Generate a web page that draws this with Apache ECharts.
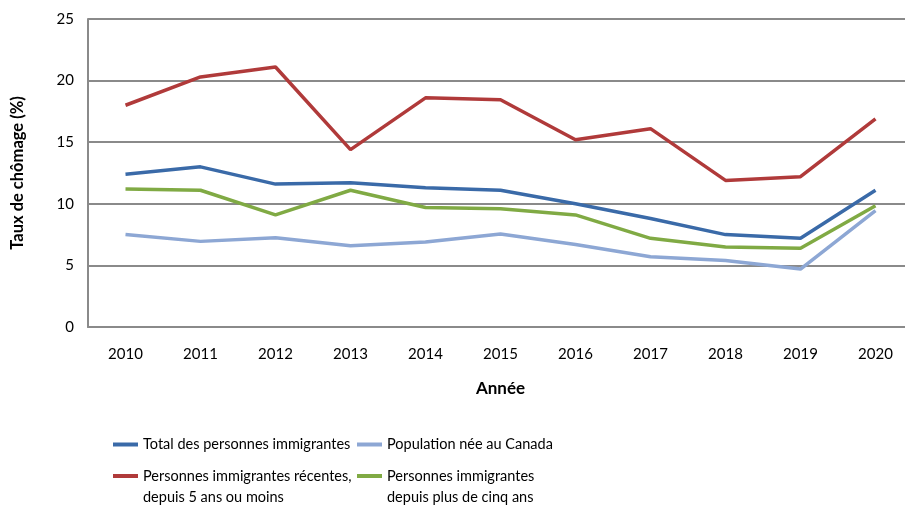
<!DOCTYPE html>
<html>
<head>
<meta charset="utf-8">
<script src="https://cdn.jsdelivr.net/npm/echarts@6/dist/echarts.min.js"></script>
<style>
  html, body { margin: 0; padding: 0; background: #fff; }
  #chart { width: 905px; height: 510px; }
</style>
</head>
<body>
<div id="chart"></div>
<script>
// taux de chômage, 2010-2020
var years = ['2010', '2011', '2012', '2013', '2014', '2015', '2016', '2017', '2018', '2019', '2020'];
var totalImmigrants = [12.4, 13.0, 11.6, 11.7, 11.3, 11.1, 10.0, 8.8, 7.5, 7.2, 11.1];
var recentImmigrants = [18.0, 20.3, 21.1, 14.4, 18.6, 18.45, 15.2, 16.1, 11.9, 12.2, 16.9];
var canadianBorn = [7.5, 6.95, 7.25, 6.6, 6.9, 7.55, 6.7, 5.7, 5.4, 4.7, 9.45];
var establishedImmigrants = [11.2, 11.1, 9.1, 11.1, 9.7, 9.6, 9.1, 7.2, 6.5, 6.4, 9.85];

var names = [
  'Total des personnes immigrantes',
  'Population née au Canada',
  'Personnes immigrantes récentes,\ndepuis 5 ans ou moins',
  'Personnes immigrantes\ndepuis plus de cinq ans'
];
var colors = ['#3a6aa8', '#8da7d4', '#b03a3a', '#80aa44'];

var font = '"Liberation Sans Narrow", Lato, sans-serif';
var lh = 21;

// multi-line items get a blank first line so the icon sits on the first text line
function legendAt(i, left, top, multi) {
  return {
    left: left,
    top: top,
    padding: 0,
    itemWidth: 25,
    itemHeight: 4,
    itemGap: 0,
    selectedMode: false,
    data: [{ name: names[i], icon: 'rect' }],
    formatter: multi ? function (n) { return ' \n' + n; } : '{name}',
    textStyle: { fontFamily: font, fontSize: 14.5, color: '#000', lineHeight: lh }
  };
}

var chart = echarts.init(document.getElementById('chart'));
chart.setOption({
  animation: false,
  color: colors,
  textStyle: { fontFamily: font },
  grid: { left: 88, top: 19, width: 825, height: 308, containLabel: false, outerBoundsMode: 'none' },
  legend: [
    legendAt(0, 113, 434, false),
    legendAt(1, 357, 434, false),
    legendAt(2, 113, 476 - 1.5 * lh, true),
    legendAt(3, 357, 476 - 1.5 * lh, true)
  ],
  xAxis: {
    type: 'category',
    data: years,
    boundaryGap: true,
    name: 'Année',
    nameLocation: 'middle',
    nameGap: 53,
    nameTextStyle: { fontFamily: font, fontSize: 17, fontWeight: 'bold', color: '#000' },
    axisLine: { lineStyle: { color: '#8a8a8a', width: 2 } },
    axisTick: { show: false },
    axisLabel: { margin: 20, fontSize: 15, color: '#000', fontFamily: font }
  },
  yAxis: {
    type: 'value',
    min: 0,
    max: 25,
    interval: 5,
    name: 'Taux de chômage (%)',
    nameLocation: 'middle',
    nameGap: 62,
    nameTextStyle: { fontFamily: font, fontSize: 16.5, fontWeight: 'bold', color: '#000' },
    axisLine: { show: true, lineStyle: { color: '#8a8a8a', width: 2 } },
    axisTick: { show: false },
    axisLabel: { margin: 14, fontSize: 15, color: '#000', fontFamily: font },
    splitLine: { lineStyle: { color: '#8a8a8a', width: 2 } }
  },
  series: [
    { name: names[0], type: 'line', data: totalImmigrants, symbol: 'none', lineStyle: { width: 3.5 }, z: 4 },
    { name: names[1], type: 'line', data: canadianBorn, symbol: 'none', lineStyle: { width: 3.5 }, z: 2 },
    { name: names[2], type: 'line', data: recentImmigrants, symbol: 'none', lineStyle: { width: 3.5 }, z: 5 },
    { name: names[3], type: 'line', data: establishedImmigrants, symbol: 'none', lineStyle: { width: 3.5 }, z: 3 }
  ]
});
</script>
</body>
</html>
